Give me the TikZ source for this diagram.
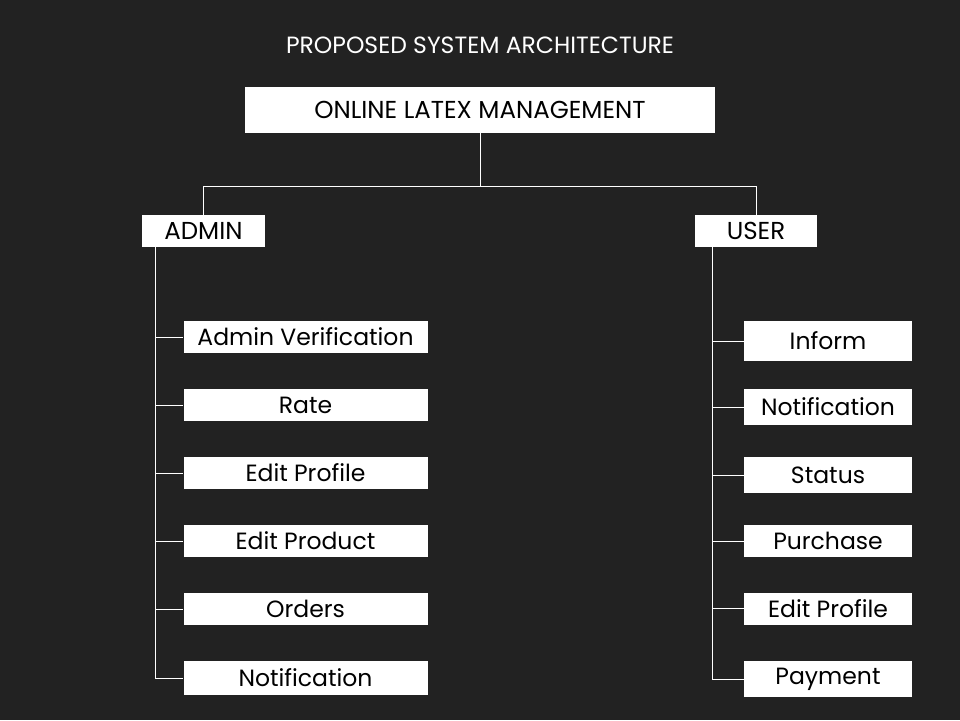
\documentclass[tikz,border=0pt]{standalone}
\usepackage{fontspec}
\setmainfont{Poppins}
\definecolor{bgdark}{HTML}{222222}
\begin{document}
\begin{tikzpicture}
  [x=1pt,y=-1pt,every node/.style={fill=white,text=black,inner sep=0pt,font=\fontsize{23.5}{26}\selectfont}]
  \tikzstyle{capsfont} = [font=\fontsize{24.5}{27}\selectfont]
  \tikzstyle{leftbox} = [minimum width=244,minimum height=32]
  \tikzstyle{rightbox} = [minimum width=168,minimum height=34]
  \tikzstyle{link} = [draw=white,line width=1pt]
  \fill[bgdark] (0,0) rectangle (960,720);
  \node[capsfont,fill=none,text=white,font=\fontsize{23.5}{26}\selectfont] (title) at (480,45) {PROPOSED SYSTEM ARCHITECTURE};
  \node[capsfont,minimum width=470,minimum height=46] (root) at (480,110) {ONLINE LATEX MANAGEMENT};
  \node[capsfont,minimum width=123,minimum height=32] (admin) at (203.5,231) {ADMIN};
  \node[capsfont,minimum width=122,minimum height=32] (user) at (756,231) {USER};
  \node[leftbox] (a1) at (305.5,337) {Admin Verification};
  \node[leftbox] (a2) at (305.5,405) {Rate};
  \node[leftbox] (a3) at (305.5,473) {Edit Profile};
  \node[leftbox] (a4) at (305.5,541) {Edit Product};
  \node[leftbox] (a5) at (305.5,609) {Orders};
  \node[leftbox,minimum height=34] (a6) at (305.5,678) {Notification};
  \node[rightbox,minimum height=40] (u1) at (828,341) {Inform};
  \node[rightbox,minimum height=36] (u2) at (828,407) {Notification};
  \node[rightbox,minimum height=36] (u3) at (828,475) {Status};
  \node[rightbox,minimum height=32] (u4) at (828,541) {Purchase};
  \node[rightbox,minimum height=32] (u5) at (828,608.5) {Edit Profile};
  \node[rightbox,minimum height=36] (u6) at (828,679) {Payment};
  \coordinate (fork) at (480,186);
  \coordinate (atrunk) at (155.5,247);
  \coordinate (utrunk) at (712.5,247);
  \draw[link] (root.south) -- (fork);
  \foreach \dest in {admin,user}
   \draw[link] (fork) -| (\dest.north);
  \foreach \dest in {a1,a2,a3,a4,a5,a6}
   \draw[link] (atrunk) |- (\dest.west);
  \foreach \dest in {u1,u2,u3,u4,u5,u6}
   \draw[link] (utrunk) |- (\dest.west);
\end{tikzpicture}
\end{document}
